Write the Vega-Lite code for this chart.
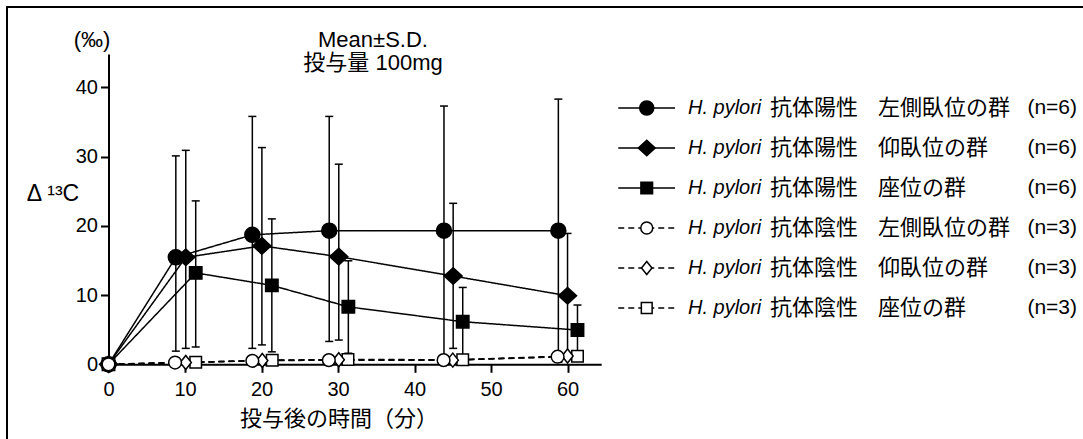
{
  "$schema": "https://vega.github.io/schema/vega-lite/v6.json",
  "width": 1079,
  "height": 435,
  "autosize": {"type": "none"},
  "padding": {"left": 7, "top": 7, "right": -3, "bottom": -3},
  "background": "white",
  "config": {"view": {"stroke": "#000", "strokeWidth": 2}, "font": "Liberation Sans"},
  "datasets": {
    "obs": [
      {"series": "陽性・左側臥位", "t": 0, "y": 0},
      {"series": "陽性・左側臥位", "t": 8.8, "y": 15.45, "lo": 1.9, "hi": 30.1},
      {"series": "陽性・左側臥位", "t": 18.8, "y": 18.7, "lo": 2.3, "hi": 35.8},
      {"series": "陽性・左側臥位", "t": 28.85, "y": 19.3, "lo": 3.3, "hi": 35.8},
      {"series": "陽性・左側臥位", "t": 43.85, "y": 19.3, "lo": 1.2, "hi": 37.3},
      {"series": "陽性・左側臥位", "t": 58.8, "y": 19.3, "lo": 0.3, "hi": 38.3},
      {"series": "陽性・仰臥位", "t": 0, "y": 0},
      {"series": "陽性・仰臥位", "t": 10.1, "y": 15.45, "lo": 2.3, "hi": 30.9},
      {"series": "陽性・仰臥位", "t": 20.05, "y": 17.1, "lo": 2.8, "hi": 31.3},
      {"series": "陽性・仰臥位", "t": 30.1, "y": 15.55, "lo": 3.5, "hi": 28.9},
      {"series": "陽性・仰臥位", "t": 45.05, "y": 12.75, "lo": 2.3, "hi": 23.25},
      {"series": "陽性・仰臥位", "t": 60.0, "y": 9.9, "lo": 0.9, "hi": 18.9},
      {"series": "陽性・座位", "t": 0, "y": 0},
      {"series": "陽性・座位", "t": 11.4, "y": 13.2, "lo": 2.5, "hi": 23.6},
      {"series": "陽性・座位", "t": 21.35, "y": 11.4, "lo": 1.8, "hi": 21.0},
      {"series": "陽性・座位", "t": 31.35, "y": 8.3, "lo": 1.6, "hi": 14.95},
      {"series": "陽性・座位", "t": 46.3, "y": 6.15, "lo": 1.2, "hi": 11.1},
      {"series": "陽性・座位", "t": 61.3, "y": 4.95, "lo": 1.3, "hi": 8.56},
      {"series": "陰性・座位", "t": 0, "y": 0},
      {"series": "陰性・座位", "t": 11.4, "y": 0.3},
      {"series": "陰性・座位", "t": 21.4, "y": 0.6},
      {"series": "陰性・座位", "t": 31.3, "y": 0.7},
      {"series": "陰性・座位", "t": 46.3, "y": 0.65},
      {"series": "陰性・座位", "t": 61.3, "y": 1.15},
      {"series": "陰性・仰臥位", "t": 0, "y": 0},
      {"series": "陰性・仰臥位", "t": 10.1, "y": 0.25},
      {"series": "陰性・仰臥位", "t": 20.1, "y": 0.55},
      {"series": "陰性・仰臥位", "t": 30.1, "y": 0.65},
      {"series": "陰性・仰臥位", "t": 45.0, "y": 0.6},
      {"series": "陰性・仰臥位", "t": 60.0, "y": 1.2},
      {"series": "陰性・左側臥位", "t": 0, "y": 0},
      {"series": "陰性・左側臥位", "t": 8.7, "y": 0.25},
      {"series": "陰性・左側臥位", "t": 18.8, "y": 0.5},
      {"series": "陰性・左側臥位", "t": 28.8, "y": 0.6},
      {"series": "陰性・左側臥位", "t": 43.8, "y": 0.6},
      {"series": "陰性・左側臥位", "t": 58.7, "y": 1.1}
    ],
    "legend": [
      {"series": "陽性・左側臥位", "status": "抗体陽性", "group": "左側臥位の群", "n": "(n=6)"},
      {"series": "陽性・仰臥位", "status": "抗体陽性", "group": "仰臥位の群", "n": "(n=6)"},
      {"series": "陽性・座位", "status": "抗体陽性", "group": "座位の群", "n": "(n=6)"},
      {"series": "陰性・左側臥位", "status": "抗体陰性", "group": "左側臥位の群", "n": "(n=3)"},
      {"series": "陰性・仰臥位", "status": "抗体陰性", "group": "仰臥位の群", "n": "(n=3)"},
      {"series": "陰性・座位", "status": "抗体陰性", "group": "座位の群", "n": "(n=3)"}
    ]
  },
  "resolve": {"scale": {"x": "independent", "y": "independent"}},
  "layer": [
    {
      "data": {"name": "obs"},
      "encoding": {
        "x": {
          "field": "t", "type": "quantitative",
          "scale": {"domain": [0, 64.4], "range": [101.5, 594.2], "nice": false, "zero": false},
          "axis": {
            "title": "投与後の時間（分）", "titleFont": "Noto Sans CJK JP", "titleFontSize": 22,
            "titleFontWeight": "normal", "titleColor": "black", "titleX": 331.5, "titleY": 54,
            "titleBaseline": "middle", "titleAlign": "center",
            "offset": -77.7, "values": [0, 10, 20, 30, 40, 50, 60], "grid": false,
            "domainColor": "black", "domainWidth": 2, "tickColor": "black", "tickWidth": 2, "tickSize": 8,
            "labelFont": "Liberation Sans", "labelFontSize": 20, "labelColor": "black", "labelPadding": 7,
            "labelFlush": false, "labelOverlap": false
          }
        },
        "y": {
          "field": "y", "type": "quantitative", "title": null,
          "scale": {"domain": [0, 44.8], "range": [357.3, 47.1], "nice": false, "zero": false},
          "axis": {
            "title": null, "offset": -101.5, "values": [0, 10, 20, 30, 40], "grid": false,
            "domainColor": "black", "domainWidth": 2, "tickColor": "black", "tickWidth": 2, "tickSize": 8,
            "labelFont": "Liberation Sans", "labelFontSize": 20, "labelColor": "black", "labelPadding": 3,
            "labelOverlap": false
          }
        }
      },
      "layer": [
        {
          "mark": {"type": "line", "stroke": "black", "strokeWidth": 1.5},
          "encoding": {
            "detail": {"field": "series", "type": "nominal"},
            "strokeDash": {
              "field": "series", "type": "nominal", "legend": null,
              "scale": {
                "domain": ["陽性・左側臥位", "陽性・仰臥位", "陽性・座位", "陰性・左側臥位", "陰性・仰臥位", "陰性・座位"],
                "range": [[1, 0], [1, 0], [1, 0], [6, 4], [6, 4], [6, 4]]
              }
            }
          }
        },
        {
          "transform": [{"filter": "datum.hi != null"}],
          "mark": {"type": "rule", "stroke": "black", "strokeWidth": 1.5},
          "encoding": {
            "y": {"field": "lo", "type": "quantitative", "title": null},
            "y2": {"field": "hi"}
          }
        },
        {
          "transform": [{"filter": "datum.hi != null"}],
          "mark": {"type": "tick", "orient": "horizontal", "size": 8, "thickness": 1.5, "color": "black", "opacity": 1},
          "encoding": {"y": {"field": "hi", "type": "quantitative", "title": null}}
        },
        {
          "transform": [{"filter": "datum.hi != null"}],
          "mark": {"type": "tick", "orient": "horizontal", "size": 8, "thickness": 1.5, "color": "black", "opacity": 1},
          "encoding": {"y": {"field": "lo", "type": "quantitative", "title": null}}
        },
        {
          "mark": {"type": "point", "filled": true, "stroke": "black", "strokeWidth": 1.5, "opacity": 1, "size": 324},
          "encoding": {
            "shape": {
              "field": "series", "type": "nominal", "legend": null,
              "scale": {
                "domain": ["陽性・左側臥位", "陽性・仰臥位", "陽性・座位", "陰性・左側臥位", "陰性・仰臥位", "陰性・座位"],
                "range": [
                  "M0.833,0A0.833,0.833,0,1,1,-0.833,0A0.833,0.833,0,1,1,0.833,0Z",
                  "M-1,0L0,-0.92L1,0L0,0.92Z",
                  "M-0.69,-0.69H0.69V0.69H-0.69Z",
                  "M0.706,0A0.706,0.706,0,1,1,-0.706,0A0.706,0.706,0,1,1,0.706,0Z",
                  "M-0.62,0L0,-0.78L0.62,0L0,0.78Z",
                  "M-0.64,-0.64H0.64V0.64H-0.64Z"
                ]
              }
            },
            "fill": {
              "field": "series", "type": "nominal", "legend": null,
              "scale": {
                "domain": ["陽性・左側臥位", "陽性・仰臥位", "陽性・座位", "陰性・左側臥位", "陰性・仰臥位", "陰性・座位"],
                "range": ["black", "black", "black", "white", "white", "white"]
              }
            }
          }
        }
      ]
    },
    {
      "data": {"name": "legend"},
      "encoding": {
        "y": {
          "field": "series", "type": "nominal", "axis": null,
          "scale": {
            "type": "point",
            "domain": ["陽性・左側臥位", "陽性・仰臥位", "陽性・座位", "陰性・左側臥位", "陰性・仰臥位", "陰性・座位"],
            "range": [101, 301], "padding": 0
          }
        }
      },
      "layer": [
        {
          "mark": {"type": "rule", "stroke": "black", "strokeWidth": 1.5},
          "encoding": {
            "x": {"datum": 56.65, "type": "quantitative", "scale": {"domain": [0, 100], "nice": false, "zero": false}, "axis": null},
            "x2": {"datum": 61.91},
            "strokeDash": {"field": "series", "type": "nominal", "legend": null}
          }
        },
        {
          "mark": {"type": "point", "filled": true, "stroke": "black", "strokeWidth": 1.5, "opacity": 1, "size": 285},
          "encoding": {
            "x": {"datum": 59.29, "type": "quantitative"},
            "shape": {"field": "series", "type": "nominal", "legend": null},
            "fill": {"field": "series", "type": "nominal", "legend": null}
          }
        },
        {
          "mark": {"type": "text", "text": "H. pylori", "font": "Liberation Sans", "fontStyle": "italic", "fontSize": 20, "align": "left", "baseline": "middle", "color": "black"},
          "encoding": {"x": {"datum": 63.11, "type": "quantitative"}}
        },
        {
          "mark": {"type": "text", "font": "Noto Sans CJK JP", "fontSize": 22, "align": "left", "baseline": "middle", "color": "black"},
          "encoding": {"x": {"datum": 70.71, "type": "quantitative"}, "text": {"field": "status"}}
        },
        {
          "mark": {"type": "text", "font": "Noto Sans CJK JP", "fontSize": 22, "align": "left", "baseline": "middle", "color": "black"},
          "encoding": {"x": {"datum": 80.72, "type": "quantitative"}, "text": {"field": "group"}}
        },
        {
          "mark": {"type": "text", "font": "Liberation Sans", "fontSize": 21, "align": "right", "baseline": "middle", "color": "black"},
          "encoding": {"x": {"datum": 99.17, "type": "quantitative"}, "text": {"field": "n"}}
        }
      ]
    },
    {
      "encoding": {
        "x": {"datum": 0, "type": "quantitative", "scale": {"domain": [0, 100], "nice": false, "zero": false}, "axis": null},
        "y": {"datum": 0, "type": "quantitative", "scale": {"domain": [0, 100], "reverse": true, "nice": false, "zero": false}, "axis": null}
      },
      "layer": [
        {
          "data": {"values": [{"label": "(‰)"}]},
          "mark": {"type": "text", "font": "Liberation Sans", "fontSize": 22, "align": "center", "baseline": "middle", "color": "black"},
          "encoding": {"x": {"datum": 7.88, "type": "quantitative"}, "y": {"datum": 7.59, "type": "quantitative"}, "text": {"field": "label"}}
        },
        {
          "data": {"values": [{"label": "Δ ¹³C"}]},
          "mark": {"type": "text", "font": "Liberation Sans", "fontSize": 23, "align": "center", "baseline": "middle", "color": "black"},
          "encoding": {"x": {"datum": 4.26, "type": "quantitative"}, "y": {"datum": 42.99, "type": "quantitative"}, "text": {"field": "label"}}
        },
        {
          "data": {"values": [{"label": "Mean±S.D."}]},
          "mark": {"type": "text", "font": "Liberation Sans, Noto Sans CJK JP", "fontSize": 22, "align": "center", "baseline": "middle", "color": "black"},
          "encoding": {"x": {"datum": 33.92, "type": "quantitative"}, "y": {"datum": 7.59, "type": "quantitative"}, "text": {"field": "label"}}
        },
        {
          "data": {"values": [{"label": "投与量 100mg"}]},
          "mark": {"type": "text", "font": "Liberation Sans, Noto Sans CJK JP", "fontSize": 22, "align": "center", "baseline": "middle", "color": "black"},
          "encoding": {"x": {"datum": 33.92, "type": "quantitative"}, "y": {"datum": 12.87, "type": "quantitative"}, "text": {"field": "label"}}
        }
      ]
    }
  ]
}
